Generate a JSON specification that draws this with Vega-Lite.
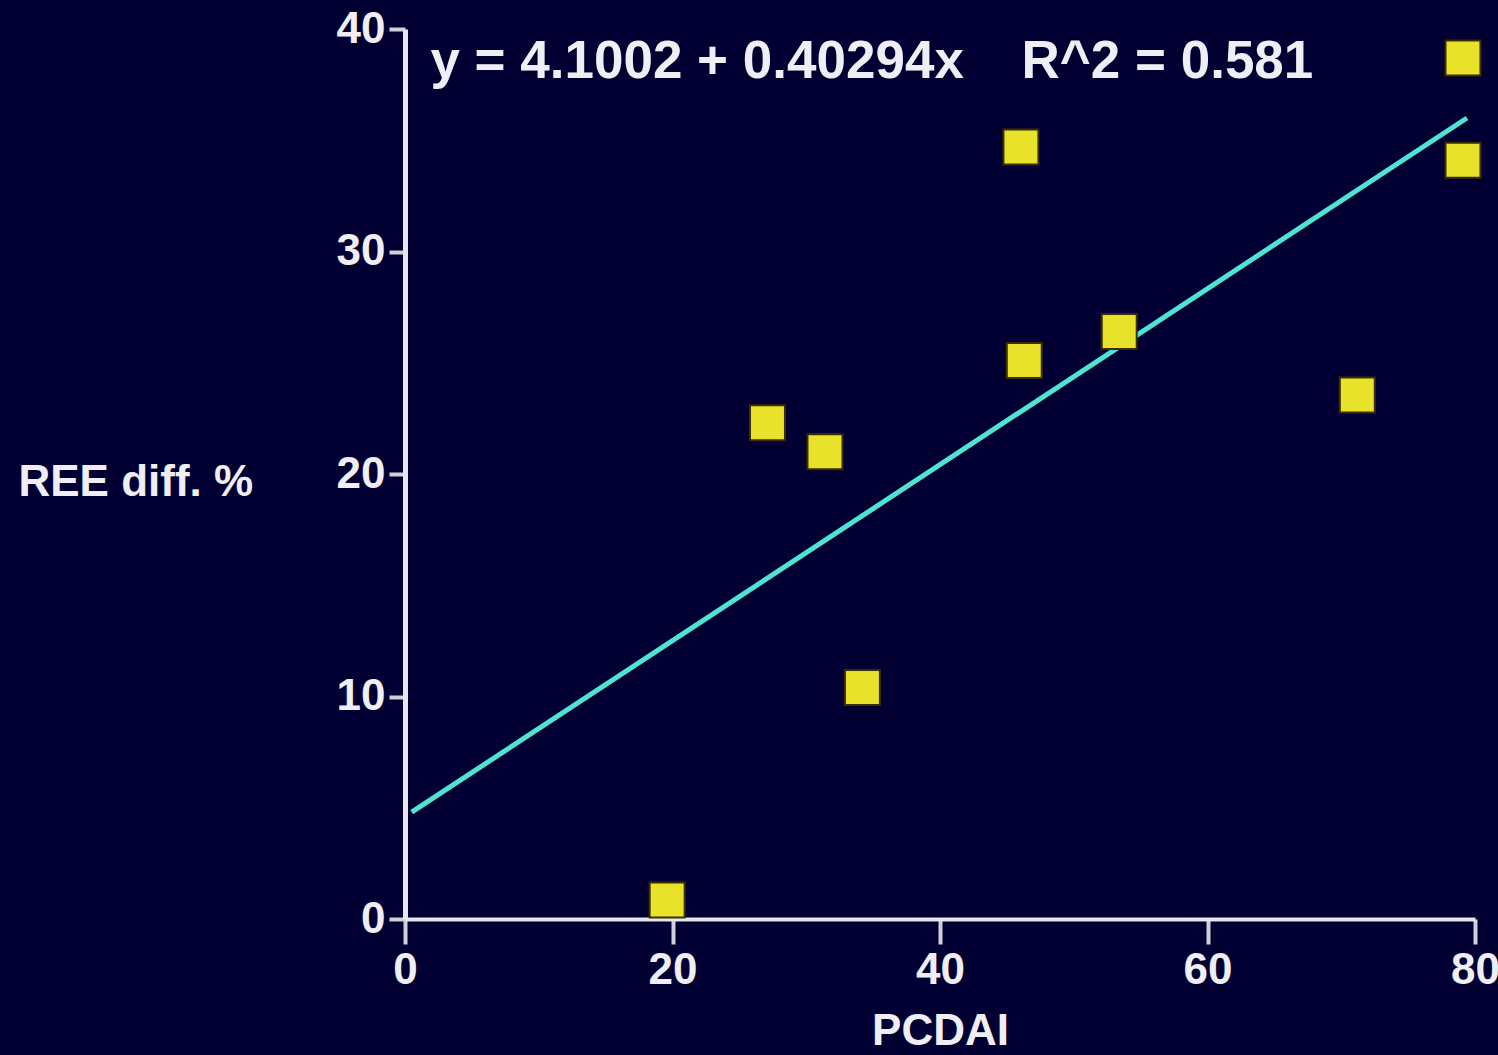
{
  "$schema": "https://vega.github.io/schema/vega-lite/v6.json",
  "width": 1070,
  "height": 890,
  "autosize": "none",
  "padding": {"left": 405, "top": 29, "right": 23, "bottom": 136},
  "background": "#020033",
  "config": {"view": {"stroke": null}, "font": "Liberation Sans"},
  "datasets": {
    "points": [
      {"PCDAI": 19.6, "REE": 0.85},
      {"PCDAI": 27.1, "REE": 22.3},
      {"PCDAI": 31.4, "REE": 21.0},
      {"PCDAI": 34.2, "REE": 10.4},
      {"PCDAI": 46.05, "REE": 34.7},
      {"PCDAI": 46.3, "REE": 25.1},
      {"PCDAI": 53.4, "REE": 26.4},
      {"PCDAI": 71.2, "REE": 23.55},
      {"PCDAI": 79.1, "REE": 38.7},
      {"PCDAI": 79.1, "REE": 34.1}
    ],
    "fit": [
      {"PCDAI": 0.5, "REE": 4.8},
      {"PCDAI": 79.4, "REE": 36.0}
    ],
    "labels": [
      {"label": "y = 4.1002 + 0.40294x", "lx": 1.9},
      {"label": "R^2 = 0.581", "lx": 46.1}
    ]
  },
  "layer": [
    {
      "data": {"name": "fit"},
      "mark": {"type": "line", "color": "#4FE3D3", "strokeWidth": 5},
      "encoding": {
        "x": {
          "field": "PCDAI", "type": "quantitative",
          "scale": {"domain": [0, 80], "nice": false},
          "axis": {
            "title": "PCDAI", "values": [0, 20, 40, 60, 80], "grid": false,
            "domainColor": "#E6E6EC", "domainWidth": 4,
            "tickColor": "#D0D0D8", "tickWidth": 4, "tickSize": 25,
            "labelFontSize": 44, "labelFontWeight": "bold", "labelColor": "#EEEEF4",
            "labelPadding": 4, "labelFlush": false, "labelOverlap": false,
            "titleFontSize": 44, "titleFontWeight": "bold", "titleColor": "#EEEEF4",
            "titlePadding": 17
          }
        },
        "y": {
          "field": "REE", "type": "quantitative",
          "scale": {"domain": [0, 40], "nice": false},
          "axis": {
            "title": "REE diff. %", "values": [0, 10, 20, 30, 40], "grid": false,
            "domainColor": "#E6E6EC", "domainWidth": 5,
            "tickColor": "#D0D0D8", "tickWidth": 4, "tickSize": 16,
            "labelFontSize": 44, "labelFontWeight": "bold", "labelColor": "#EEEEF4",
            "labelPadding": 4, "labelFlush": false, "labelOverlap": false,
            "titleFontSize": 44, "titleFontWeight": "bold", "titleColor": "#EEEEF4",
            "titleAngle": 0, "titleAlign": "left", "titleBaseline": "middle",
            "titleX": -387, "titleY": 453
          }
        }
      }
    },
    {
      "data": {"name": "points"},
      "mark": {"type": "square", "size": 1225, "color": "#E8E22A", "opacity": 1, "filled": true, "stroke": "#3A2E00", "strokeWidth": 2},
      "encoding": {
        "x": {"field": "PCDAI", "type": "quantitative"},
        "y": {"field": "REE", "type": "quantitative"}
      }
    },
    {
      "data": {"name": "labels"},
      "mark": {"type": "text", "align": "left", "baseline": "middle", "fontSize": 53, "fontWeight": "bold", "color": "#EEEEF4"},
      "encoding": {
        "x": {"field": "lx", "type": "quantitative"},
        "y": {"datum": 38.5},
        "text": {"field": "label"}
      }
    }
  ]
}
